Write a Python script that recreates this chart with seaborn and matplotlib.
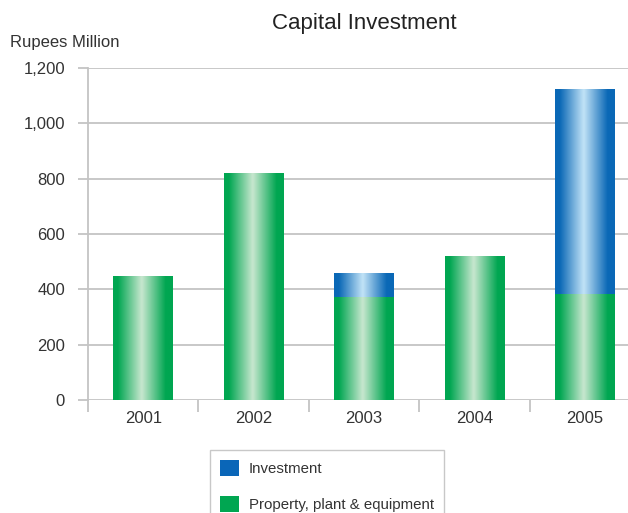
import numpy as np
import pandas as pd
import matplotlib
matplotlib.use("Agg")
import matplotlib.pyplot as plt
from matplotlib.colors import LinearSegmentedColormap
from matplotlib.patches import Patch
from matplotlib.ticker import FuncFormatter, FixedLocator
import seaborn as sns

years = ["2001", "2002", "2003", "2004", "2005"]
ppe = [445, 820, 370, 520, 380]
investment = [0, 0, 89, 0, 744]
series_names = ["Investment", "Property, plant & equipment"]

df = pd.DataFrame({"Year": years, "PPE": ppe, "Investment": investment})
df["Total"] = df["PPE"] + df["Investment"]

sns.set_theme(style="white")
plt.rcParams["font.family"] = ["Liberation Sans", "DejaVu Sans"]

BLUE_D, BLUE_L = "#0a68b6", "#c2e3f7"
GREEN_D, GREEN_L = "#00a651", "#c8e7cf"
TXT = "#333333"
GRID = "#c4c4c4"

fig = plt.figure(figsize=(6.28, 5.13), dpi=100)
ax = fig.add_axes([88 / 628, 113 / 513, 552 / 628, 332 / 513])

sns.barplot(data=df, x="Year", y="Total", color=BLUE_D, width=0.54, ax=ax,
            saturation=1, errorbar=None, zorder=2)
blue_patches = list(ax.patches)
sns.barplot(data=df, x="Year", y="PPE", color=GREEN_D, width=0.54, ax=ax,
            saturation=1, errorbar=None, zorder=3)
green_patches = [p for p in ax.patches if p not in blue_patches]

def make_cmap(d, l):
    return LinearSegmentedColormap.from_list(
        "g", [(0, d), (0.08, d), (0.48, l), (0.88, d), (1, d)])

grad = np.linspace(0, 1, 256).reshape(1, -1)
for patches, cm, z in [(blue_patches, make_cmap(BLUE_D, BLUE_L), 2),
                       (green_patches, make_cmap(GREEN_D, GREEN_L), 3)]:
    for p in patches:
        x, y = p.get_x(), p.get_y()
        w, h = p.get_width(), p.get_height()
        if h <= 0:
            continue
        ax.imshow(grad, extent=[x, x + w, y, y + h], aspect="auto", cmap=cm,
                  zorder=z, interpolation="bicubic")
        p.set_visible(False)

ax.set_xlim(-0.5, 4.5)
ax.set_ylim(0, 1200)
ax.set_yticks([0, 200, 400, 600, 800, 1000, 1200])
ax.yaxis.set_major_formatter(FuncFormatter(lambda v, _: f"{int(v):,}"))
ax.grid(axis="y", color=GRID, linewidth=1.3, zorder=0)
ax.set_axisbelow(True)
ax.set_xlabel("")
ax.set_ylabel("")

for s in ["top", "right", "bottom"]:
    ax.spines[s].set_visible(False)
ax.spines["left"].set_color(GRID)
ax.spines["left"].set_linewidth(1.3)

ax.tick_params(axis="y", which="major", left=True, length=7.5, width=1.3,
               color=GRID, pad=9, labelsize=12, labelcolor=TXT)
ax.tick_params(axis="x", which="major", bottom=False, length=0, pad=8,
               labelsize=12, labelcolor=TXT)
ax.xaxis.set_minor_locator(FixedLocator([-0.5, 0.5, 1.5, 2.5, 3.5]))
ax.tick_params(axis="x", which="minor", bottom=True, length=8.5, width=1.3,
               color=GRID)

ax.set_title("Capital Investment", fontsize=16, color="#222222", pad=28)
fig.text(10 / 628, 1 - 42 / 513, "Rupees Million", fontsize=12, color=TXT,
         va="center", ha="left")

handles = [Patch(facecolor="#0a66b8", edgecolor="none"),
           Patch(facecolor="#00a651", edgecolor="none")]
leg = fig.legend(handles, series_names, loc="upper left",
                 bbox_to_anchor=(210 / 628, 1 - 450 / 513), frameon=True,
                 fontsize=10.8, handlelength=1.3, handleheight=1.3,
                 labelspacing=1.3, borderpad=0.65, handletextpad=0.65,
                 fancybox=False, borderaxespad=0)
leg.get_frame().set_edgecolor("#bbbbbb")
leg.get_frame().set_linewidth(1.0)
for t in leg.get_texts():
    t.set_color(TXT)

fig.savefig("out.png", dpi=100)
